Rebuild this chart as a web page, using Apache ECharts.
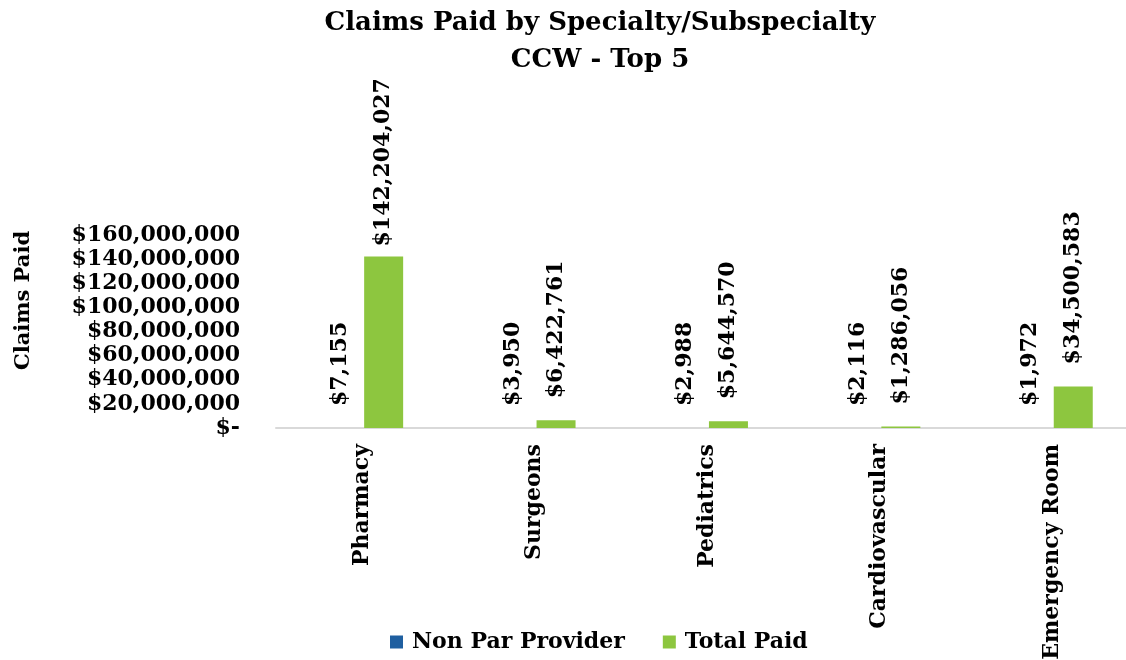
<!DOCTYPE html>
<html>
<head>
<meta charset="utf-8">
<script src="https://cdn.jsdelivr.net/npm/echarts@6/dist/echarts.min.js"></script>
<style>
  html, body { margin: 0; padding: 0; background: #fff; }
  #main { width: 1126px; height: 660px; }
</style>
</head>
<body>
<div id="main"></div>
<script>
// 分类与数据
const categories = ['Pharmacy', 'Surgeons', 'Pediatrics', 'Cardiovascular', 'Emergency Room'];
const nonParProvider = [7155, 3950, 2988, 2116, 1972];
const totalPaid = [142204027, 6422761, 5644570, 1286056, 34500583];

const serif = 'DejaVu Serif';
const money = v => '$' + Number(v).toLocaleString('en-US');

const chart = echarts.init(document.getElementById('main'));

const barLabel = {
    show: true,
    position: 'top',
    rotate: 90,
    align: 'left',
    verticalAlign: 'middle',
    distance: 22,
    color: '#000',
    fontFamily: serif,
    fontWeight: 'bold',
    fontSize: 22,
    formatter: p => money(p.value)
};

const option = {
    backgroundColor: '#fff',
    title: {
        text: 'Claims Paid by Specialty/Subspecialty\nCCW - Top 5',
        left: 595,
        top: 0,
        textAlign: 'center',
        textStyle: {
            fontFamily: serif,
            fontWeight: 'bold',
            fontSize: 26,
            lineHeight: 37,
            color: '#000'
        }
    },
    legend: {
        bottom: 2,
        left: 385,
        itemWidth: 13,
        itemHeight: 13,
        itemGap: 38,
        icon: 'rect',
        textStyle: { fontFamily: serif, fontWeight: 'bold', fontSize: 22, color: '#000', padding: [0, 0, 0, 4] },
        data: ['Non Par Provider', 'Total Paid']
    },
    grid: { left: 276, top: 235, width: 862, height: 193, outerBoundsMode: 'none' },
    xAxis: {
        type: 'category',
        data: categories,
        axisLine: { lineStyle: { color: '#d9d9d9', width: 2 } },
        axisTick: { show: false },
        axisLabel: {
            rotate: 90,
            margin: 16,
            color: '#000',
            fontFamily: serif,
            fontWeight: 'bold',
            fontSize: 22
        }
    },
    yAxis: {
        type: 'value',
        min: 0,
        max: 160000000,
        interval: 20000000,
        name: 'Claims Paid',
        nameLocation: 'middle',
        nameRotate: 90,
        nameGap: 242,
        nameTextStyle: {
            fontFamily: serif, fontWeight: 'bold', fontSize: 21, color: '#000',
            padding: [0, 0, 0, 62]
        },
        axisLine: { show: false },
        axisTick: { show: false },
        splitLine: { show: false },
        axisLabel: {
            margin: 36,
            color: '#000',
            fontFamily: serif,
            fontWeight: 'bold',
            fontSize: 22,
            formatter: v => v === 0 ? '$-' : money(v)
        }
    },
    series: [
        {
            name: 'Non Par Provider',
            type: 'bar',
            barWidth: 39,
            barGap: '10%',
            itemStyle: { color: '#1f5fa0' },
            label: barLabel,
            data: nonParProvider
        },
        {
            name: 'Total Paid',
            type: 'bar',
            barWidth: 39,
            itemStyle: { color: '#8dc63f' },
            label: barLabel,
            // 最高的柱子标签离柱顶更近，避免压到标题
            data: totalPaid.map((v, i) => i === 0 ? { value: v, label: { distance: 10 } } : v)
        }
    ]
};

chart.setOption(option);
</script>
</body>
</html>
